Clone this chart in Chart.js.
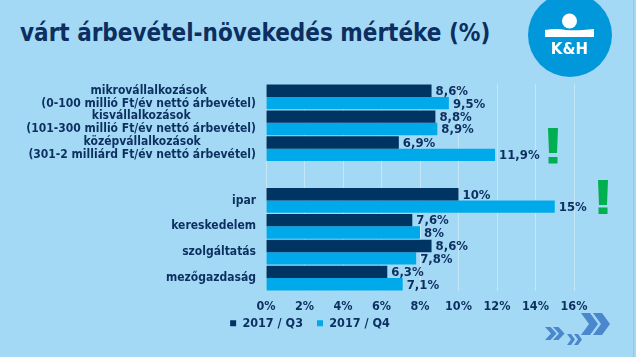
<!DOCTYPE html>
<html>
<head>
<meta charset="utf-8">
<script src="https://cdn.jsdelivr.net/npm/chart.js@4"></script>
<style>
  html, body { margin:0; padding:0; }
  body { width:636px; height:357px; background:#a4d9f6; position:relative; overflow:hidden; font-family:"DejaVu Sans Condensed","DejaVu Sans",sans-serif; }
  #title { position:absolute; left:20px; top:19px; font-weight:bold; font-size:24px; color:#0c2f5f; white-space:nowrap; }
  #wrap { position:absolute; left:0; top:0; width:636px; height:357px; }
  svg.deco { position:absolute; left:0; top:0; }
</style>
</head>
<body>
<div id="title">várt árbevétel-növekedés mértéke (%)</div>
<div id="wrap"><canvas id="c" width="636" height="357"></canvas></div>
<svg class="deco" width="636" height="357" viewBox="0 0 636 357">
  <line x1="633.5" y1="0" x2="633.5" y2="357" stroke="#8cc9ec" stroke-width="1"/>
  <!-- logo -->
  <circle cx="570" cy="35" r="42" fill="#0098db"/>
  <circle cx="569.5" cy="21" r="7.5" fill="#fff"/>
  <path d="M545 30 Q556 28 566 30 Q576 31 594 29 L594 37 L545 37 Z" fill="#fff"/>
  <text x="569.5" y="53.5" text-anchor="middle" font-family="DejaVu Sans, sans-serif" font-weight="bold" font-size="15" fill="#fff">K&amp;H</text>
  <!-- exclamation marks -->
  <path d="M548 128 L558 128 L557 153 L549 153 Z" fill="#00b050"/>
  <rect x="548.5" y="157" width="9" height="6.5" fill="#00b050"/>
  <path d="M598 180 L608 180 L607 205 L599 205 Z" fill="#00b050"/>
  <rect x="598.5" y="207.5" width="9" height="6.5" fill="#00b050"/>
  <!-- chevrons -->
  <g fill="#4b87cc">
    <path d="M581 313 L590 313 L598 324 L590 335 L581 335 L589 324 Z"/>
    <path d="M593 313 L602 313 L610 324 L602 335 L593 335 L601 324 Z"/>
    <path d="M545 327 L550.5 327 L556.5 333.5 L550.5 340 L545 340 L551 333.5 Z"/>
    <path d="M553 327 L558.5 327 L564.5 333.5 L558.5 340 L553 340 L559 333.5 Z"/>
    <path d="M567 334 L571 334 L575 339.5 L571 345 L567 345 L571 339.5 Z"/>
    <path d="M574 334 L578 334 L582 339.5 L578 345 L574 345 L578 339.5 Z"/>
  </g>
</svg>
<script>
const categories = [
  ["mikrovállalkozások", "(0-100 millió Ft/év nettó árbevétel)"],
  ["kisvállalkozások", "(101-300 millió Ft/év nettó árbevétel)"],
  ["középvállalkozások", "(301-2 milliárd Ft/év nettó árbevétel)"],
  [""],
  ["ipar"],
  ["kereskedelem"],
  ["szolgáltatás"],
  ["mezőgazdaság"]
];
const seriesNames = ["2017 / Q3", "2017 / Q4"];
const q3Values = [8.6, 8.8, 6.9, null, 10, 7.6, 8.6, 6.3];
const q4Values = [9.5, 8.9, 11.9, null, 15, 8, 7.8, 7.1];
const xTicks = [0, 2, 4, 6, 8, 10, 12, 14, 16];

const NAVY = '#0c2f5f';
const FONT = '"DejaVu Sans Condensed","DejaVu Sans",sans-serif';

function fmt(v) {
  return (Number.isInteger(v) ? String(v) : v.toFixed(1).replace('.', ',')) + '%';
}

const yLabelPlugin = {
  id: 'yLabels',
  afterDraw(chart) {
    const ctx = chart.ctx;
    const y = chart.scales.y;
    const right = chart.chartArea.left - 10;
    ctx.save();
    ctx.font = 'bold 12px ' + FONT;
    ctx.fillStyle = NAVY;
    ctx.textBaseline = 'middle';
    ctx.textAlign = 'center';
    const lh = 13;
    categories.forEach((lines, i) => {
      const cy = y.getPixelForTick(i);
      const w = Math.max(...lines.map(l => ctx.measureText(l).width));
      const cx = right - w / 2;
      const y0 = cy - (lines.length - 1) * lh / 2;
      lines.forEach((l, k) => ctx.fillText(l, cx, y0 + k * lh));
    });
    ctx.restore();
  }
};

const valueLabelPlugin = {
  id: 'valueLabels',
  afterDatasetsDraw(chart) {
    const ctx = chart.ctx;
    ctx.save();
    ctx.font = 'bold 13px ' + FONT;
    ctx.fillStyle = NAVY;
    ctx.textBaseline = 'middle';
    ctx.textAlign = 'left';
    chart.data.datasets.forEach((ds, di) => {
      const meta = chart.getDatasetMeta(di);
      meta.data.forEach((el, i) => {
        const v = ds.data[i];
        if (v === null || v === undefined) return;
        ctx.fillText(fmt(v), el.x + 4, el.y + 1);
      });
    });
    ctx.restore();
  }
};

const legendShift = {
  id: 'legendShift',
  afterLayout(chart) {
    if (chart.legend) { chart.legend.top -= 19; chart.legend.bottom -= 19; }
  }
};

new Chart(document.getElementById('c'), {
  type: 'bar',
  data: {
    labels: categories.map(c => c.join(' ')),
    datasets: [
      { label: seriesNames[0], data: q3Values, backgroundColor: '#003563', borderWidth: 0 },
      { label: seriesNames[1], data: q4Values, backgroundColor: '#00aaea', borderWidth: 0 }
    ]
  },
  options: {
    indexAxis: 'y',
    responsive: false,
    animation: false,
    devicePixelRatio: 1,
    layout: { padding: { top: 84, right: 62, bottom: -1.5, left: 46 } },
    datasets: { bar: { categoryPercentage: 0.96, barPercentage: 1.0 } },
    scales: {
      x: {
        min: 0, max: 16,
        afterBuildTicks(scale) { scale.ticks = xTicks.map(v => ({ value: v })); },
        ticks: {
          callback: v => v + '%',
          color: NAVY,
          font: { family: FONT, weight: 'bold', size: 12.5 },
          padding: 8,
          maxRotation: 0
        },
        grid: { color: 'rgba(255,255,255,0.35)', drawTicks: false },
        border: { display: false }
      },
      y: {
        afterFit(scale) { scale.width = 220; },
        ticks: { display: false },
        grid: { display: false },
        border: { display: false }
      }
    },
    plugins: {
      legend: {
        position: 'bottom',
        labels: {
          boxWidth: 6, boxHeight: 6,
          color: NAVY,
          font: { family: FONT, weight: 'bold', size: 12.5 },
          padding: 14
        }
      },
      tooltip: { enabled: false }
    }
  },
  plugins: [yLabelPlugin, valueLabelPlugin, legendShift]
});
</script>
</body>
</html>
